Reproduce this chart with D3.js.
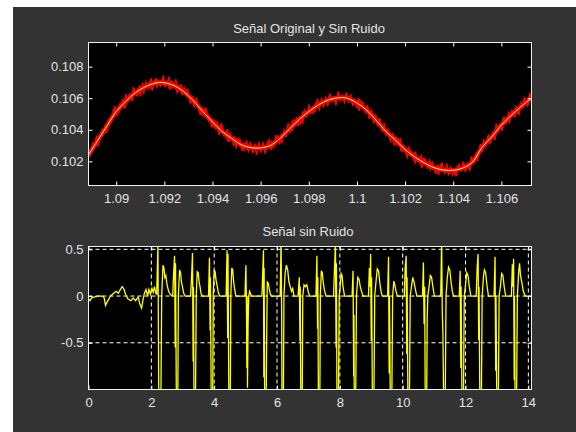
<!DOCTYPE html>
<html><head><meta charset="utf-8">
<script src="https://cdn.jsdelivr.net/npm/d3@7"></script>
<style>
html,body{margin:0;padding:0;background:#fff;}
svg text{font-family:"Liberation Sans",Arial,sans-serif;}
</style></head>
<body>
<svg id="chart" width="576" height="432"></svg>
<script>
// ---------- DATA ----------
const topTitle = "Señal Original y Sin Ruido";
const bottomTitle = "Señal sin Ruido";

const topXDomain = [1.08885, 1.10725];
const topYDomain = [0.10047, 0.10953];
const topXTicks = [1.09, 1.092, 1.094, 1.096, 1.098, 1.1, 1.102, 1.104, 1.106];
const topXTickLabels = ["1.09","1.092","1.094","1.096","1.098","1.1","1.102","1.104","1.106"];
const topYTicks = [0.102, 0.104, 0.106, 0.108];
const topYTickLabels = ["0.102","0.104","0.106","0.108"];

// smooth (denoised) signal, top panel
const cleanX = [1.08885,1.0892,1.0896,1.0900,1.0904,1.0908,1.0912,1.0916,1.0918,1.0920,1.0924,1.0928,1.0932,1.0936,1.0940,1.0944,1.0948,1.0952,1.0956,1.0958,1.0960,1.0964,1.0968,1.0972,1.0976,1.0980,1.0984,1.0988,1.0992,1.0994,1.0996,1.1000,1.1004,1.1008,1.1012,1.1016,1.1020,1.1024,1.1028,1.1032,1.1036,1.1040,1.1044,1.1048,1.1052,1.1056,1.1060,1.1064,1.1068,1.10725];
const cleanY = [0.10241,0.10325,0.10420,0.10515,0.10580,0.10635,0.10672,0.10695,0.10700,0.10698,0.10680,0.10642,0.10585,0.10515,0.10450,0.10390,0.10345,0.10305,0.10287,0.10284,0.10285,0.10300,0.10345,0.10405,0.10465,0.10515,0.10558,0.10588,0.10602,0.10604,0.10600,0.10570,0.10525,0.10460,0.10390,0.10335,0.10275,0.10228,0.10190,0.10160,0.10145,0.10143,0.10158,0.10195,0.10290,0.10355,0.10430,0.10490,0.10545,0.10600];

// noise of the original signal around the smooth one (units of 1e-5)
const redNoise = [12,-18,25,-8,30,-22,5,-15,20,-30,10,-5,28,-12,-25,18,3,-20,35,-10,15,-28,22,-6,9,-33,26,-14,4,-19,31,-9,17,-24,11,-2,29,-16,7,-27,21,-11,36,-7,13,-21,24,-4,8,-30,19,-13,27,-18,6,-23,32,-3,14,-26,10,-17,23,-9,38,-15,2,-29,20,-6,16,-34,25,-12,5,-20,30,-8,12,-25,18,-1,27,-19,9,-31,22,-10,15,-22,33,-5,7,-28,24,-14,11,-17,28,-7,19,-24,4,-32,21,-11,26,-16,8,-21,34,-3,13,-27,17,-9,30,-13,6,-35,23,-8,10,-19,27,-15,16,-23,3,-26,29,-6,20,-18,12,-30,25,-2,9,-22,31,-12,14,-16,22,-10,5,-33,18,-7,28,-20,11,-25,24,-4,15,-29,7,-14,32,-11,19,-21,26,-5,8,-27,21,-13,36,-9,12,-18,17,-24,3,-31,28,-8,23,-15,10,-20,30,-3,16,-26,6,-12,25,-17,20,-22,13,-7,33,-10,9,-28,19,-14,27,-6,14,-23,4,-30,22,-11,18,-19,29,-2];
const redNoise2 = [-20,14,-9,27,-31,8,19,-12,-26,22,6,-17,33,-4,-21,11,25,-29,7,16,-13,30,-8,-24,18,2,-28,23,-10,15,-34,9,20,-6,-19,26,-15,4,31,-22,12,-7,-27,17,24,-11,-3,29,-18,10,-25,21,5,-32,14,-9,27,-16,8,-23,19,-2,-30,25,11,-14,32,-20,6,-26,16,-5,22,-29,13,3,-21,28,-12,9,-33,18,-8,24,-17,1,30,-24,10,-11,26,-28,15,4,-19,35,-6,-22,20,-13,7,-31,23,12,-16,29,-9,-25,17,2,-27,21,-4,14,-30,25,-10,8,-20,33,-15,5,-23,19,-7,27,-26,11,-1,-32,24,16,-12,28,-18,6,-29,22,-5,13,-21,31,-8,3,-27,18,10,-14,26,-24,9,-3,-30,20,15,-17,29,-11,7,-33,23,-6,12,-19,27,-13,4,-28,21,8,-16,34,-22,11,-4,-25,17,14,-9,30,-20,5,-31,24,-2,19,-15,28,-26,10,-7,23,-18,13,-34,16,2,-21,29,-12,8,-27,20,-6,25,-23,15,-10,31,-3,-19,22,6];

const botXDomain = [0, 14.1];
const botYDomain = [-1.0, 0.53];
const botXTicks = [0, 2, 4, 6, 8, 10, 12, 14];
const botXTickLabels = ["0","2","4","6","8","10","12","14"];
const botYTicks = [-0.5, 0, 0.5];
const botYTickLabels = ["-0.5","0","0.5"];

// denoised signal, bottom panel: [t, value]
const signal = [
[0,-0.03],[0.05,-0.05],[0.1,-0.02],[0.2,-0.01],[0.3,0],[0.45,0],[0.5,-0.02],[0.54,-0.1],[0.6,-0.06],[0.65,-0.03],[0.7,0.0],[0.8,0.03],[0.88,0.05],[0.95,0.03],[1.0,0.06],[1.07,0.1],[1.12,0.08],[1.18,0.02],[1.25,-0.03],[1.35,-0.05],[1.42,-0.02],[1.5,-0.05],[1.58,-0.01],[1.63,-0.08],[1.69,-0.13],[1.73,-0.05],[1.78,0.03],[1.83,0.07],[1.88,0.0],[1.92,0.07],[1.97,0.02],[2.02,0.08],[2.06,0.04],[2.1,0.1],[2.14,0.03],[2.17,0.02],
[2.21,0.55],[2.24,-1.3],[2.30,-1.3],[2.33,0.0],[2.37,0.33],[2.40,0.3],[2.43,0.2],[2.46,0.22],[2.50,0.12],[2.55,0.05],[2.60,0.02],[2.66,0.0],
[2.68,0.0],[2.71,0.25],[2.74,0.43],[2.76,-0.55],[2.77,0.35],[2.80,-1.3],[2.84,-1.3],[2.86,0.0],[2.90,0.28],[2.93,0.25],[2.96,0.15],[2.99,0.1],[3.03,0.03],[3.08,0.0],
[3.25,0.0],[3.28,0.2],[3.31,0.46],[3.33,-0.7],[3.34,0.1],[3.36,-1.3],[3.40,-1.3],[3.43,0.0],[3.46,0.26],[3.49,0.25],[3.52,0.15],[3.55,0.1],[3.58,0.03],[3.62,0.0],
[3.82,0.0],[3.85,0.41],[3.87,-0.37],[3.88,0.2],[3.91,-1.3],[3.95,-1.3],[3.97,0.0],[4.00,0.28],[4.03,0.26],[4.06,0.17],[4.09,0.12],[4.13,0.04],[4.18,0.0],
[4.38,0.0],[4.41,0.49],[4.43,-0.45],[4.44,0.45],[4.46,-0.7],[4.47,-1.3],[4.51,-1.3],[4.53,0.0],[4.56,0.3],[4.59,0.28],[4.62,0.15],[4.65,0.08],[4.69,0.0],
[4.98,0.0],[5.01,0.33],[5.03,-0.2],[5.04,-0.77],[5.05,0.0],[5.06,-0.98],[5.08,-0.3],[5.10,0.0],[5.13,0.05],[5.16,0.02],[5.20,0.0],
[5.52,0.0],[5.55,0.3],[5.57,0.49],[5.58,-0.87],[5.59,0.3],[5.61,-1.3],[5.65,-1.3],[5.67,-0.5],[5.69,0.15],[5.72,0.14],[5.75,0.08],[5.79,0.02],[5.83,0.0],
[6.10,0.0],[6.13,0.6],[6.15,-0.3],[6.16,-1.3],[6.20,-1.3],[6.22,0.0],[6.26,0.25],[6.30,0.33],[6.34,0.28],[6.38,0.15],[6.42,0.1],[6.46,0.05],[6.50,0.08],[6.54,0.0],
[6.67,0.0],[6.71,0.2],[6.73,-0.48],[6.74,0.1],[6.76,-1.3],[6.80,-1.3],[6.82,0.0],[6.86,0.12],[6.90,0.1],[6.95,0.12],[6.99,0.05],[7.04,0.0],
[7.24,0.0],[7.27,0.43],[7.29,-0.35],[7.30,0.2],[7.32,-1.3],[7.36,-1.3],[7.38,0.0],[7.41,0.27],[7.44,0.25],[7.47,0.15],[7.51,0.06],[7.56,0.0],
[7.80,0.0],[7.83,0.3],[7.86,0.55],[7.88,-0.55],[7.89,0.35],[7.91,-1.3],[7.95,-1.3],[7.98,0.0],[8.01,0.1],[8.04,0.24],[8.07,0.22],[8.10,0.1],[8.15,0.0],
[8.39,0.0],[8.42,0.27],[8.44,-0.86],[8.45,-0.2],[8.46,-1.3],[8.50,-1.3],[8.53,0.0],[8.57,0.2],[8.61,0.18],[8.65,0.1],[8.69,0.05],[8.74,0.0],
[8.91,0.0],[8.94,0.3],[8.96,0.1],[8.98,0.45],[9.00,-0.48],[9.01,0.2],[9.04,-1.3],[9.08,-1.3],[9.11,0.0],[9.15,0.15],[9.19,0.29],[9.23,0.27],[9.27,0.15],[9.31,0.05],[9.35,0.0],
[9.52,0.0],[9.55,0.42],[9.57,-0.83],[9.58,0.0],[9.61,-1.3],[9.65,-1.3],[9.68,0.0],[9.72,0.16],[9.75,0.12],[9.79,0.05],[9.83,0.0],
[10.05,0.0],[10.08,0.3],[10.11,0.43],[10.13,-0.62],[10.14,0.2],[10.17,-1.3],[10.21,-1.3],[10.24,0.0],[10.28,0.1],[10.32,0.2],[10.36,0.15],[10.40,0.08],[10.45,0.0],
[10.63,0.0],[10.66,0.36],[10.68,-0.3],[10.70,0.1],[10.72,-1.3],[10.76,-1.3],[10.78,-0.25],[10.80,0.0],[10.84,0.1],[10.88,0.22],[10.92,0.2],[10.96,0.1],[11.01,0.0],
[11.21,0.0],[11.24,0.6],[11.26,-0.17],[11.28,-0.4],[11.31,-1.3],[11.35,-1.3],[11.38,0.0],[11.42,0.2],[11.46,0.31],[11.50,0.28],[11.54,0.15],[11.58,0.05],[11.62,0.0],
[11.80,0.0],[11.83,0.27],[11.85,-0.77],[11.86,0.1],[11.89,-1.3],[11.93,-1.3],[11.96,0.0],[12.00,0.12],[12.04,0.25],[12.08,0.22],[12.12,0.1],[12.17,0.0],
[12.34,0.0],[12.37,0.3],[12.40,0.45],[12.42,-0.47],[12.43,0.1],[12.46,-1.3],[12.50,-1.3],[12.53,0.0],[12.57,0.2],[12.60,0.28],[12.64,0.25],[12.68,0.12],[12.73,0.0],
[12.91,0.0],[12.94,0.42],[12.96,-0.8],[12.97,0.0],[13.00,-1.3],[13.04,-1.3],[13.07,0.0],[13.11,0.1],[13.15,0.24],[13.19,0.22],[13.23,0.1],[13.28,0.0],
[13.46,0.0],[13.49,0.34],[13.51,0.1],[13.53,0.4],[13.55,-0.9],[13.56,0.0],[13.58,-1.3],[13.62,-1.3],[13.65,0.0],[13.69,0.25],[13.72,0.35],[13.75,0.22],[13.79,0.15],[13.84,0.05],[13.90,0.0],[14.1,0.0]
];

// ---------- DRAWING ----------
const svg = d3.select("#chart");
const FONT = 13, TXT = "#e4e4e4";
svg.append("rect").attr("x",0).attr("y",0).attr("width",576).attr("height",432).attr("fill","#ffffff");
svg.append("rect").attr("x",13).attr("y",7).attr("width",563).attr("height",425).attr("fill","#333333");

function panel(box, xDom, yDom, xT, xL, yT, yL, grid, id) {
  const x = d3.scaleLinear().domain(xDom).range([box.x0, box.x1]);
  const y = d3.scaleLinear().domain(yDom).range([box.y1, box.y0]);
  svg.append("rect").attr("x",box.x0).attr("y",box.y0).attr("width",box.x1-box.x0).attr("height",box.y1-box.y0).attr("fill","#000");
  svg.append("clipPath").attr("id",id).append("rect")
    .attr("x",box.x0).attr("y",box.y0).attr("width",box.x1-box.x0).attr("height",box.y1-box.y0);
  if (grid) {
    const g = svg.append("g");
    g.selectAll("line.gx").data(xT).join("line")
      .attr("x1",d=>x(d)).attr("x2",d=>x(d)).attr("y1",box.y0).attr("y2",box.y1)
      .attr("stroke","#ffffff").attr("stroke-width",1).attr("stroke-dasharray","4,3");
    g.selectAll("line.gy").data(yT).join("line")
      .attr("y1",d=>y(d)).attr("y2",d=>y(d)).attr("x1",box.x0).attr("x2",box.x1)
      .attr("stroke","#ffffff").attr("stroke-width",1).attr("stroke-dasharray","4,3");
  }
  const plot = svg.append("g").attr("clip-path",`url(#${id})`);
  return {x, y, plot, box, xT, xL, yT, yL};
}
function decorate(p) {
  const {x, y, box, xT, xL, yT, yL} = p;
  const ax = svg.append("g");
  ax.append("g").attr("transform",`translate(0,${box.y1})`)
    .call(d3.axisBottom(x).tickValues(xT).tickFormat((d,i)=>xL[i]).tickSizeInner(-4).tickSizeOuter(0).tickPadding(8));
  ax.append("g").attr("transform",`translate(0,${box.y0})`)
    .call(d3.axisTop(x).tickValues(xT).tickFormat("").tickSizeInner(-4).tickSizeOuter(0));
  ax.append("g").attr("transform",`translate(${box.x0},0)`)
    .call(d3.axisLeft(y).tickValues(yT).tickFormat((d,i)=>yL[i]).tickSizeInner(-4).tickSizeOuter(0).tickPadding(5));
  ax.append("g").attr("transform",`translate(${box.x1},0)`)
    .call(d3.axisRight(y).tickValues(yT).tickFormat("").tickSizeInner(-4).tickSizeOuter(0));
  ax.selectAll(".domain").remove();
  ax.selectAll(".tick line").attr("stroke","#ffffff");
  ax.selectAll(".tick text").attr("fill",TXT).style("font-size",FONT+"px")
    .style("font-family",'"Liberation Sans", Arial, sans-serif');
  ax.append("rect").attr("x",box.x0).attr("y",box.y0).attr("width",box.x1-box.x0).attr("height",box.y1-box.y0)
    .attr("fill","none").attr("stroke","#f2f2f2").attr("stroke-width",1);
}

// ---- top panel ----
const P1 = panel({x0:88.5,x1:531.5,y0:42.5,y1:185.5}, topXDomain, topYDomain,
  topXTicks, topXTickLabels, topYTicks, topYTickLabels, false, "clipTop");
const cleanPts = cleanX.map((v,i)=>[v, cleanY[i]]);
const lineTop = d3.line().x(d=>P1.x(d[0])).y(d=>P1.y(d[1])).curve(d3.curveCatmullRom.alpha(0.5));
const band = P1.plot.append("path").datum(cleanPts).attr("d",lineTop)
  .attr("fill","none").attr("stroke","#ff0000").attr("stroke-width",4.5);
// sample the smooth curve to place the noisy original signal
const node = band.node(), L = node.getTotalLength(), lut = [];
for (let s=0; s<=L; s+=0.5) { const q = node.getPointAtLength(s); lut.push([q.x,q.y]); }
function yAt(px){ let lo=0, hi=lut.length-1;
  while(hi-lo>1){ const m=(lo+hi)>>1; if(lut[m][0]<px) lo=m; else hi=m; }
  const a=lut[lo], b=lut[hi]; const f = b[0]===a[0]?0:(px-a[0])/(b[0]-a[0]); return a[1]+f*(b[1]-a[1]); }
function noisy(arr, shift) {
  const n = arr.length;
  return arr.map((v,i)=>{
    const xv = topXDomain[0] + (i+shift)*(topXDomain[1]-topXDomain[0])/(n-1);
    const base = P1.y.invert(yAt(P1.x(xv)));
    return [xv, base + v*1.3e-5];
  });
}
[noisy(redNoise,0), noisy(redNoise2,0.5)].forEach(pts=>{
  P1.plot.append("path").datum(pts)
    .attr("d", d3.line().x(d=>P1.x(d[0])).y(d=>P1.y(d[1])))
    .attr("fill","none").attr("stroke","#ff0000").attr("stroke-width",1.3);
});
P1.plot.append("path").datum(cleanPts).attr("d",lineTop)
  .attr("fill","none").attr("stroke","#ffff80").attr("stroke-width",1);
decorate(P1);
svg.append("text").attr("x",309).attr("y",32.5).attr("text-anchor","middle")
  .attr("fill",TXT).style("font-size",FONT+"px").text(topTitle);

// ---- bottom panel ----
const P2 = panel({x0:88.5,x1:531.5,y0:246.5,y1:389.5}, botXDomain, botYDomain,
  botXTicks, botXTickLabels, botYTicks, botYTickLabels, true, "clipBot");
P2.plot.append("path").datum(signal)
  .attr("d", d3.line().x(d=>P2.x(d[0])).y(d=>P2.y(d[1])))
  .attr("fill","none").attr("stroke","#ffff00").attr("stroke-width",1.3);
decorate(P2);
svg.append("text").attr("x",308).attr("y",236).attr("text-anchor","middle")
  .attr("fill",TXT).style("font-size",FONT+"px").text(bottomTitle);
</script>
</body></html>
